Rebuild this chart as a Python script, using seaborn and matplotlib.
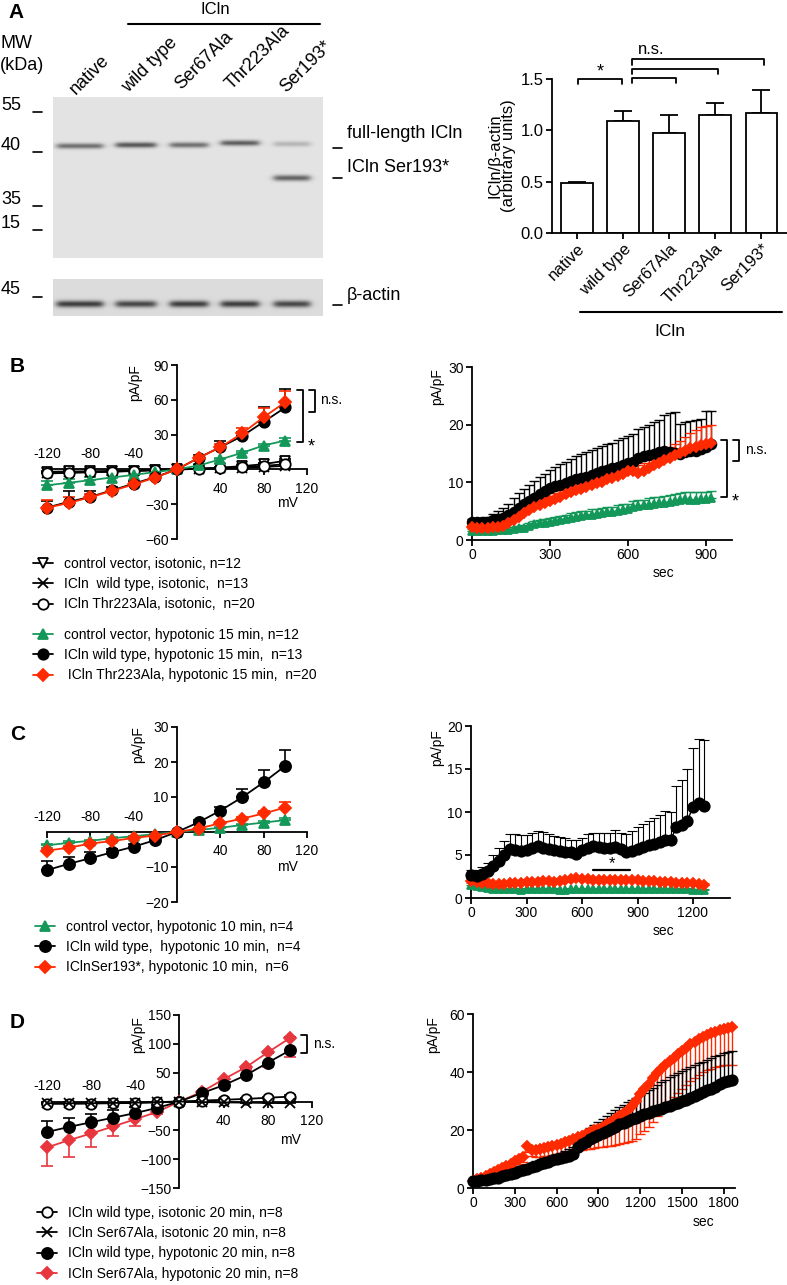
import numpy as np
import matplotlib
matplotlib.use('Agg')
import matplotlib.pyplot as plt
import seaborn as sns

sns.set_theme(style='ticks')
plt.rcParams['font.family'] = ['Liberation Sans', 'DejaVu Sans']
plt.rcParams['axes.edgecolor'] = 'black'
plt.rcParams['text.color'] = 'black'
plt.rcParams['axes.labelcolor'] = 'black'
plt.rcParams['xtick.color'] = 'black'
plt.rcParams['ytick.color'] = 'black'
plt.rcParams['axes.linewidth'] = 1.3

W, H = 787, 1285
RED = '#ff2a00'
RED_D = '#e8363e'
GREEN = '#14985a'

# ---------------- data ----------------
# panel A: western blot lanes and densitometry
lanes = ['native', 'wild type', 'Ser67Ala', 'Thr223Ala', 'Ser193*']
lane_x = [80, 136, 189, 240, 292]
lane_w = [46, 40, 38, 38, 36]
band_y = [146, 145, 145, 143, 144]
full_band = [0.45, 0.55, 0.45, 0.52, 0.18]
trunc_band = [0.0, 0.0, 0.0, 0.0, 0.5]
actin_band = [0.62, 0.58, 0.62, 0.62, 0.58]
ratio_mean = [0.49, 1.09, 0.97, 1.15, 1.17]
ratio_sem = [0.01, 0.10, 0.18, 0.12, 0.22]

volt = [-120, -100, -80, -60, -40, -20, 0, 20, 40, 60, 80, 100]

# panel B: IV, isotonic / hypotonic 15 min
b_ctrl_iso = [-2.0, -1.8, -1.6, -1.3, -1.0, -0.5, 0, 0.6, 1.5, 2.8, 4.5, 7.5]
b_wt_iso = [-3.0, -2.6, -2.2, -1.8, -1.2, -0.6, 0, 0.4, 1.0, 1.5, 2.2, 3.0]
b_thr_iso = [-3.5, -3.0, -2.5, -2.0, -1.4, -0.7, 0, 0.5, 1.2, 2.0, 3.0, 4.5]
b_iso_err = [1.0, 1.0, 0.8, 0.8, 0.6, 0.4, 0, 0.4, 0.6, 0.8, 1.0, 1.5]
b_ctrl_hypo = [-13.7, -11.5, -9.3, -7.0, -4.7, -2.3, 0, 3.4, 8.6, 14.3, 20.6, 24.9]
b_ctrl_err = [4, 3, 3, 2, 2, 1, 0, 1, 1, 1.5, 1.5, 2]
b_wt_hypo = [-32.9, -28.0, -23.7, -18.0, -12.3, -6.6, 0, 10.0, 19.2, 28.6, 41.0, 53.4]
b_wt_err = [6, 9, 5, 3, 2, 1, 0, 2, 5, 4, 13, 16]
b_thr_hypo = [-33.0, -29.0, -24.0, -18.5, -13.0, -7.0, 0, 10.0, 19.0, 31.0, 45.0, 58.0]
b_thr_err = [7, 5, 3, 2, 1.5, 1, 0, 1.5, 3, 5, 8, 10]

# panel B: time course
b_t = list(range(0, 940, 20))
b_wt_t = [3.2, 3.1, 3.1, 3.2, 3.4, 3.6, 3.9, 4.3, 4.9, 5.6, 6.2, 6.8, 7.3, 7.9, 8.5, 9.0,
          9.3, 9.6, 9.9, 10.2, 10.5, 10.8, 11.0, 11.3, 11.6, 11.9, 12.2, 12.4, 12.7, 13.0,
          13.4, 13.6, 14.3, 14.6, 14.8, 15.0, 15.2, 15.4, 15.3, 15.1, 15.0, 15.2, 15.4,
          15.5, 15.7, 16.2, 16.6]
b_wt_t_err = [0.5, 0.5, 0.6, 0.8, 1.1, 1.4, 1.7, 2.0, 2.3, 2.5, 2.7, 2.8, 2.9, 3.0, 3.0,
              3.1, 3.3, 3.5, 3.7, 3.9, 4.0, 4.1, 4.2, 4.3, 4.3, 4.4, 4.4, 4.5, 4.6, 4.7,
              4.6, 4.8, 4.9, 5.0, 5.2, 5.4, 5.6, 6.3, 6.8, 7.1, 5.2, 5.2, 5.3, 5.3, 5.2,
              6.2, 5.8]
b_thr_t = [2.2, 2.1, 2.1, 2.1, 2.2, 2.3, 2.5, 2.9, 3.4, 4.0, 4.6, 5.2, 5.7, 6.1, 6.4, 6.7,
           7.1, 7.5, 7.9, 8.3, 8.6, 8.9, 9.2, 9.5, 9.8, 10.1, 10.5, 10.8, 11.1, 11.5, 11.9,
           12.0, 11.6, 12.0, 12.5, 13.0, 13.4, 13.8, 14.3, 14.7, 15.1, 15.5, 15.9, 16.2,
           16.4, 16.6, 16.9]
b_thr_t_err = [0.3, 0.3, 0.3, 0.3, 0.4, 0.4, 0.5, 0.6, 0.7, 0.8, 0.9, 0.9, 1.0, 1.0, 1.0,
               1.0, 1.0, 1.1, 1.1, 1.1, 1.1, 1.2, 1.2, 1.2, 1.2, 1.2, 1.2, 1.3, 1.3, 1.3,
               1.3, 1.4, 1.4, 1.4, 1.5, 1.5, 1.6, 1.7, 1.8, 1.9, 2.0, 2.3, 2.6, 2.9, 3.2,
               3.2, 3.0]
b_ctrl_t = [1.6, 1.6, 1.6, 1.6, 1.6, 1.7, 1.7, 1.8, 1.9, 2.0, 2.1, 2.4, 2.7, 2.9, 3.0, 3.1,
            3.3, 3.5, 3.7, 3.9, 4.0, 4.2, 4.3, 4.4, 4.5, 4.7, 4.8, 4.9, 5.0, 5.2, 5.3, 5.8,
            5.9, 6.0, 6.1, 6.3, 6.4, 6.5, 6.6, 6.8, 6.9, 7.1, 7.0, 7.0, 7.1, 7.1, 7.2]
b_ctrl_t_err = [0.3, 0.3, 0.3, 0.3, 0.3, 0.3, 0.4, 0.4, 0.4, 0.5, 0.5, 0.5, 0.6, 0.6, 0.6,
                0.7, 0.7, 0.7, 0.7, 0.8, 0.8, 0.8, 0.8, 0.9, 0.9, 0.9, 0.9, 0.9, 1.0, 1.0,
                1.0, 1.0, 1.0, 1.0, 1.1, 1.1, 1.1, 1.1, 1.2, 1.2, 1.2, 1.2, 1.3, 1.3, 1.3,
                1.3, 1.3]

# panel C: IV, hypotonic 10 min
c_ctrl = [-3.8, -3.1, -2.5, -1.8, -1.2, -0.6, 0, 0.6, 1.2, 2.0, 2.7, 3.4]
c_ctrl_err = [0.4, 0.4, 0.3, 0.3, 0.2, 0.1, 0, 0.1, 0.2, 0.3, 0.4, 0.5]
c_wt = [-10.9, -9.1, -7.5, -5.8, -4.2, -2.3, 0, 2.8, 6.1, 9.9, 14.2, 18.9]
c_wt_err = [2.7, 2.0, 1.8, 1.0, 0.8, 0.5, 0, 0.5, 1.0, 2.3, 3.5, 4.5]
c_ser = [-5.3, -4.5, -3.3, -2.6, -1.7, -1.0, 0, 1.0, 2.5, 3.8, 5.3, 7.0]
c_ser_err = [0.6, 0.5, 0.4, 0.3, 0.2, 0.1, 0, 0.2, 0.3, 0.5, 0.6, 1.7]

# panel C: time course
c_t = list(range(0, 1261, 30))
c_wt_t = [2.7, 2.6, 2.8, 3.1, 3.7, 4.3, 5.0, 5.7, 5.6, 5.5, 5.6, 5.8, 6.0, 5.8, 5.7, 5.6,
          5.5, 5.4, 5.3, 5.1, 5.6, 5.8, 6.0, 5.9, 5.8, 5.8, 5.9, 5.7, 5.4, 5.5, 5.7, 5.9,
          6.2, 6.3, 6.5, 6.8, 6.8, 8.2, 8.5, 9.0, 10.6, 11.0, 10.7]
c_wt_t_err = [0.6, 0.6, 0.8, 1.0, 1.3, 1.5, 1.6, 1.7, 1.9, 1.8, 1.7, 1.8, 1.8, 1.9, 1.8,
              1.6, 1.6, 1.6, 1.5, 1.6, 1.4, 1.7, 1.6, 1.7, 1.8, 1.8, 2.0, 1.9, 2.0, 2.3,
              2.5, 2.7, 2.8, 3.0, 3.2, 3.3, 3.2, 4.8, 5.2, 6.0, 6.9, 7.5, 7.7]
c_ser_t = [2.0, 1.9, 1.8, 1.7, 1.6, 1.6, 1.6, 1.7, 1.8, 1.8, 1.9, 1.9, 1.9, 2.0, 2.0, 1.9,
           2.0, 2.1, 2.2, 2.3, 2.2, 2.2, 2.1, 2.1, 2.1, 2.1, 2.1, 2.1, 2.1, 2.1, 2.1, 2.0,
           2.0, 2.0, 1.9, 1.9, 1.9, 1.8, 1.8, 1.7, 1.7, 1.6, 1.5]
c_ser_t_err = [0.3] * 43
c_ctrl_t = [1.5, 1.4, 1.3, 1.2, 1.1, 1.1, 1.0, 1.0, 1.0, 0.9, 1.0, 1.0, 1.0, 1.0, 1.0, 1.0,
            0.9, 0.9, 1.0, 1.0, 1.0, 1.0, 1.0, 1.0, 1.0, 1.0, 1.0, 1.0, 1.0, 1.0, 1.0, 1.0,
            1.0, 1.0, 1.0, 1.0, 1.0, 1.0, 1.0, 1.0, 0.9, 0.9, 0.9]
c_ctrl_t_err = [0.2] * 43

# panel D: IV, 20 min
d_wt_iso = [-4.0, -4.0, -3.5, -3.0, -2.5, -1.5, 0, 1.5, 3.0, 4.5, 6.5, 8.5]
d_ser_iso = [-3.0, -3.0, -3.0, -2.5, -2.0, -1.0, 0, -1.0, -1.5, -2.0, -2.5, -3.0]
d_iso_err = [2, 2, 2, 2, 1.5, 1, 0, 1, 1.5, 2, 2, 2]
d_wt_hypo = [-53, -44, -36, -28, -20, -11, 0, 14.4, 28.2, 45.5, 67.4, 88.7]
d_wt_hypo_err = [19, 15, 14, 13, 10, 5, 0, 4, 5, 13, 17, 24]
d_ser_hypo = [-79.6, -67, -55.4, -43.3, -30.6, -18, 0, 16.7, 38.6, 59.3, 85.3, 110]
d_ser_hypo_err = [32, 29, 23, 16, 12, 4, 0, 3, 4, 5, 26, 32]

# panel D: time course
d_t = list(range(0, 1861, 30))
d_wt_t = [2.4, 2.5, 2.7, 2.9, 3.1, 3.3, 3.6, 4.0, 4.4, 4.8, 5.2, 5.7, 6.2, 6.7, 7.2, 7.7,
          8.2, 8.7, 9.1, 9.5, 9.9, 10.3, 10.7, 11.2, 11.8, 14.0, 15.2, 16.0, 16.8, 17.6,
          18.4, 19.1, 19.8, 20.5, 21.2, 21.9, 22.5, 23.1, 23.7, 24.3, 24.9, 25.4, 25.9,
          26.4, 26.9, 27.4, 27.9, 28.4, 28.9, 29.4, 29.9, 30.5, 31.1, 31.8, 32.5, 33.1,
          33.7, 34.3, 35.0, 35.7, 36.4, 37.0, 37.3]
d_wt_t_err = [0.3, 0.4, 0.4, 0.5, 0.5, 0.6, 0.6, 0.7, 0.8, 0.9, 1.0, 1.1, 1.2, 1.3, 1.4,
              1.5, 1.5, 1.6, 1.7, 1.7, 1.8, 1.9, 2.0, 2.2, 2.5, 2.8, 3.2, 3.5, 3.8, 4.2,
              4.5, 4.8, 5.1, 5.4, 5.7, 6.0, 6.2, 6.4, 6.6, 6.8, 7.0, 7.4, 7.8, 8.2, 8.6,
              9.0, 9.4, 9.8, 10.1, 10.3, 10.5, 10.5, 10.5, 10.5, 10.5, 10.5, 10.5, 10.4,
              10.4, 10.3, 10.3, 10.0, 9.8]
d_ser_t = [2.5, 3.0, 3.6, 4.2, 4.9, 5.6, 6.3, 7.0, 7.7, 8.4, 9.2, 10.0, 10.8, 14.5, 13.2,
           13.0, 13.3, 13.7, 14.1, 14.5, 14.8, 15.3, 15.9, 16.3, 16.8, 17.5, 18.1, 18.7,
           19.3, 19.9, 20.5, 21.2, 22.0, 22.8, 23.7, 24.7, 25.7, 26.9, 28.2, 29.9, 32.5,
           34.2, 36.0, 37.8, 39.5, 41.0, 42.5, 43.8, 45.0, 46.1, 47.2, 48.4, 49.5, 50.5,
           51.3, 52.0, 52.7, 53.3, 53.9, 54.4, 54.9, 55.2, 55.5]
d_ser_t_err = [0.3, 0.4, 0.5, 0.6, 0.7, 0.8, 0.9, 1.0, 1.1, 1.3, 1.5, 1.6, 1.8, 2.0, 2.2,
               2.4, 2.6, 2.8, 2.9, 3.0, 3.0, 3.2, 3.5, 3.8, 4.1, 4.5, 4.9, 5.3, 5.7, 6.1,
               6.5, 7.0, 7.6, 8.2, 8.9, 9.5, 10.2, 11.0, 12.0, 13.0, 14.0, 14.6, 15.0, 15.0,
               14.8, 14.5, 14.2, 13.9, 13.6, 13.3, 13.0, 12.8, 12.6, 12.4, 12.2, 12.0, 12.0,
               12.1, 12.2, 12.3, 12.5, 12.8, 13.0]

legend_b1 = ['control vector, isotonic, n=12', 'ICln  wild type, isotonic,  n=13',
             'ICln Thr223Ala, isotonic,  n=20']
legend_b2 = ['control vector, hypotonic 15 min, n=12', 'ICln wild type, hypotonic 15 min,  n=13',
             ' ICln Thr223Ala, hypotonic 15 min,  n=20']
legend_c = ['control vector, hypotonic 10 min, n=4', 'ICln wild type,  hypotonic 10 min,  n=4',
            'IClnSer193*, hypotonic 10 min,  n=6']
legend_d = ['ICln wild type, isotonic 20 min, n=8', 'ICln Ser67Ala, isotonic 20 min, n=8',
            'ICln wild type, hypotonic 20 min, n=8', 'ICln Ser67Ala, hypotonic 20 min, n=8']

FS = 10
FA = 13

fig = plt.figure(figsize=(W / 100, H / 100), dpi=100)


def px_axes(x0, y0, x1, y1):
    a = fig.add_axes([x0 / W, 1 - y1 / H, (x1 - x0) / W, (y1 - y0) / H])
    a.patch.set_alpha(0)
    return a


def draw_series(ax, x, y, lo, hi, color, marker, ms, mfc=None, cap=4.2, elw=1.2, lw=1.3, z=3):
    ax.errorbar(x, y, yerr=[lo, hi], fmt='none', ecolor=color, elinewidth=elw, capsize=cap,
                capthick=elw, clip_on=False, zorder=z)
    sns.lineplot(x=x, y=y, ax=ax, color=color, marker=marker, markersize=ms,
                 markerfacecolor=mfc if mfc else color, markeredgecolor=color,
                 markeredgewidth=1.3, linewidth=lw, clip_on=False, zorder=z + 0.5,
                 errorbar=None)
    return ax.lines[-1]


def iv_style(ax, ylim, yticks, neg_off, pos_off):
    ax.set_xlim(-120, 120)
    ax.set_ylim(*ylim)
    ax.spines['left'].set_position(('data', 0))
    ax.spines['bottom'].set_position(('data', 0))
    ax.spines['right'].set_visible(False)
    ax.spines['top'].set_visible(False)
    ax.set_yticks(yticks)
    ax.set_xticks([-120, -80, -40, 40, 80, 120])
    ax.set_xticklabels([])
    ax.tick_params(direction='out', length=4, width=1.3, labelsize=FS, pad=2)
    ax.set_xlabel('')
    ax.set_ylabel('')
    for v in [-120, -80, -40]:
        ax.annotate(str(v), (v, 0), xytext=(0, neg_off), textcoords='offset points',
                    ha='center', va='center', fontsize=FS)
    for v in [40, 80, 120]:
        ax.annotate(str(v), (v, 0), xytext=(0, pos_off), textcoords='offset points',
                    ha='center', va='center', fontsize=FS)


def time_style(ax, xlim, xticks, ylim, yticks):
    ax.set_xlim(*xlim)
    ax.set_ylim(*ylim)
    ax.set_xticks(xticks)
    ax.set_yticks(yticks)
    ax.spines['right'].set_visible(False)
    ax.spines['top'].set_visible(False)
    ax.tick_params(direction='out', length=4, width=1.3, labelsize=FS, pad=2)
    ax.set_xlabel('')
    ax.set_ylabel('')


def legend_at(handles, labels, x, y):
    fig.legend(handles, labels, loc='upper left', bbox_to_anchor=(x / W, 1 - y / H),
               bbox_transform=fig.transFigure, frameon=False, fontsize=FS,
               handlelength=1.45, handletextpad=0.8, labelspacing=0.45,
               borderpad=0, borderaxespad=0)


# ---------------- panel A bar chart ----------------
axA = px_axes(552, 79, 787, 233)
sns.barplot(x=lanes, y=ratio_mean, color='white', edgecolor='black', linewidth=1.3,
            width=0.68, saturation=1, errorbar=None, ax=axA)
axA.errorbar(range(len(lanes)), ratio_mean, yerr=[np.zeros(len(lanes)), ratio_sem],
             fmt='none', ecolor='black', elinewidth=1.3, capsize=6.5, capthick=1.3, zorder=0)
axA.set_xlim(-0.54, 4.56)
axA.set_ylim(0, 1.5)
axA.set_yticks([0, 0.5, 1.0, 1.5])
axA.set_yticklabels(['0.0', '0.5', '1.0', '1.5'])
axA.spines['right'].set_visible(False)
axA.spines['top'].set_visible(False)
axA.tick_params(direction='out', length=4, width=1.3, labelsize=12, pad=2)
axA.set_xticks(range(len(lanes)))
axA.set_xticklabels(lanes, rotation=45, ha='right', rotation_mode='anchor', fontsize=12)
axA.set_ylabel('ICln/\u03b2-actin\n(arbitrary units)', fontsize=12, linespacing=0.95, labelpad=3)
axA.set_xlabel('')
brk = dict(color='black', lw=1.3, clip_on=False)
axA.plot([0.02, 0.02, 0.97, 0.97], [1.45, 1.5, 1.5, 1.45], **brk)
axA.text(0.5, 1.57, '*', ha='center', va='center', fontsize=13)
for xr, yb in [(2.16, 1.51), (3.06, 1.6), (4.05, 1.69)]:
    axA.plot([1.2, 1.2, xr, xr], [yb - 0.05, yb, yb, yb - 0.05], **brk)
axA.text(1.62, 1.79, 'n.s.', ha='center', va='center', fontsize=12)

# ---------------- panel B ----------------
axB = px_axes(47, 365, 307, 539)
h_ctrl_iso = draw_series(axB, volt, b_ctrl_iso, np.zeros(12), b_iso_err, 'black', 'v', 7.5, 'white')
h_wt_iso = draw_series(axB, volt, b_wt_iso, np.zeros(12), b_iso_err, 'black', 'x', 7.5)
h_thr_iso = draw_series(axB, volt, b_thr_iso, np.zeros(12), b_iso_err, 'black', 'o', 7.5, 'white')
h_ctrl = draw_series(axB, volt, b_ctrl_hypo, np.zeros(12), b_ctrl_err, GREEN, '^', 7)
h_wt = draw_series(axB, volt, b_wt_hypo, np.zeros(12), b_wt_err, 'black', 'o', 7.5)
h_thr = draw_series(axB, volt, b_thr_hypo, np.zeros(12), b_thr_err, RED, 'D', 6)
iv_style(axB, (-60, 90), [-60, -30, 30, 60, 90], 11, -14)

axBt = px_axes(472, 367, 732, 540)
draw_series(axBt, b_t, b_ctrl_t, np.zeros(len(b_t)), b_ctrl_t_err, GREEN, '^', 6, cap=3.5, elw=1.0, lw=1)
draw_series(axBt, b_t, b_wt_t, np.zeros(len(b_t)), b_wt_t_err, 'black', 'o', 7, cap=3.5, elw=1.0, lw=1)
draw_series(axBt, b_t, b_thr_t, np.zeros(len(b_t)), b_thr_t_err, RED, 'D', 5.5, cap=3.5, elw=1.0, lw=1)
time_style(axBt, (0, 1000), [0, 300, 600, 900], (0, 30), [0, 10, 20, 30])

# ---------------- panel C ----------------
axC = px_axes(47, 727, 307, 902)
h_c_ctrl = draw_series(axC, volt, c_ctrl, np.zeros(12), c_ctrl_err, GREEN, '^', 7)
h_c_wt = draw_series(axC, volt, c_wt, np.zeros(12), c_wt_err, 'black', 'o', 8)
h_c_ser = draw_series(axC, volt, c_ser, np.zeros(12), c_ser_err, RED, 'D', 6)
iv_style(axC, (-20, 30), [-20, -10, 10, 20, 30], 11, -14)

axCt = px_axes(471, 726, 730, 898)
draw_series(axCt, c_t, c_ctrl_t, np.zeros(len(c_t)), c_ctrl_t_err, GREEN, '^', 6, cap=3.5, elw=0.8, lw=1)
draw_series(axCt, c_t, c_ser_t, np.zeros(len(c_t)), c_ser_t_err, RED, 'D', 5.5, cap=3.5, elw=0.8, lw=1)
draw_series(axCt, c_t, c_wt_t, np.zeros(len(c_t)), c_wt_t_err, 'black', 'o', 7.5, cap=3.5, elw=0.8, lw=1)
time_style(axCt, (0, 1400), [0, 300, 600, 900, 1200], (0, 20), [0, 5, 10, 15, 20])
axCt.plot([658, 858], [3.3, 3.3], color='black', lw=1.6)
axCt.text(760, 3.95, '*', ha='center', va='center', fontsize=12)

# ---------------- panel D ----------------
axD = px_axes(47, 1015, 312, 1188)
h_d_ser = draw_series(axD, volt, d_ser_hypo, d_ser_hypo_err, np.zeros(12), RED_D, 'D', 6)
h_d_wt = draw_series(axD, volt, d_wt_hypo, np.zeros(12), d_wt_hypo_err, 'black', 'o', 8)
h_d_wt_iso = draw_series(axD, volt, d_wt_iso, np.zeros(12), d_iso_err, 'black', 'o', 7.5, 'white')
h_d_ser_iso = draw_series(axD, volt, d_ser_iso, np.zeros(12), d_iso_err, 'black', 'x', 7.5)
iv_style(axD, (-150, 150), [-150, -100, -50, 50, 100, 150], 11, -14)

axDt = px_axes(473, 1014, 735, 1188)
draw_series(axDt, d_t, d_ser_t, d_ser_t_err, np.zeros(len(d_t)), RED, 'D', 5.5, cap=3.5, elw=1.0, lw=1)
draw_series(axDt, d_t, d_wt_t, np.zeros(len(d_t)), d_wt_t_err, 'black', 'o', 7.5, cap=3.5, elw=1.0, lw=1)
time_style(axDt, (0, 1880), [0, 300, 600, 900, 1200, 1500, 1800], (0, 60), [0, 20, 40, 60])

# ---------------- legends ----------------
legend_at([h_ctrl_iso, h_wt_iso, h_thr_iso], legend_b1, 33, 557)
legend_at([h_ctrl, h_wt, h_thr], legend_b2, 33, 628)
legend_at([h_c_ctrl, h_c_wt, h_c_ser], legend_c, 35, 920)
legend_at([h_d_wt_iso, h_d_ser_iso, h_d_wt, h_d_ser], legend_d, 37, 1206)

# ---------------- overlay: blot and free text ----------------
ov = fig.add_axes([0, 0, 1, 1])
ov.set_xlim(0, W)
ov.set_ylim(H, 0)
ov.axis('off')

xs = np.arange(53, 323) + 0.5
ys = np.arange(97, 258) + 0.5
X, Y = np.meshgrid(xs, ys)
blot = np.full(X.shape, 0.89)
for cx, w, by, a, b in zip(lane_x, lane_w, band_y, full_band, trunc_band):
    box = 1 / (1 + np.exp(-(X - (cx - w / 2)) / 2.0)) / (1 + np.exp((X - (cx + w / 2)) / 2.0))
    blot -= a * box * np.exp(-((Y - by) / 2.8) ** 2)
    blot -= b * box * np.exp(-((Y - 178) / 3.0) ** 2)
ov.imshow(blot, cmap='gray', vmin=0, vmax=1, extent=(53, 323, 258, 97), aspect='auto',
          interpolation='bilinear')

ys2 = np.arange(279, 316) + 0.5
X2, Y2 = np.meshgrid(xs, ys2)
actin = np.full(X2.shape, 0.86)
for cx, w, a in zip(lane_x, lane_w, actin_band):
    box = 1 / (1 + np.exp(-(X2 - (cx - w / 2)) / 2.0)) / (1 + np.exp((X2 - (cx + w / 2)) / 2.0))
    actin -= a * box * np.exp(-((Y2 - 304) / 3.4) ** 2)
ov.imshow(actin, cmap='gray', vmin=0, vmax=1, extent=(53, 323, 316, 279), aspect='auto',
          interpolation='bilinear')
ov.set_xlim(0, W)
ov.set_ylim(H, 0)

ov.text(8, 12, 'A', fontsize=15, fontweight='bold', va='center')
ov.text(10, 367, 'B', fontsize=15, fontweight='bold', va='center')
ov.text(10, 735, 'C', fontsize=15, fontweight='bold', va='center')
ov.text(10, 1022, 'D', fontsize=15, fontweight='bold', va='center')

ov.text(215, 9, 'ICln', fontsize=12, ha='center', va='center')
ov.plot([128, 320], [24, 24], color='black', lw=1.5)
ov.text(0, 43, 'MW', fontsize=FA, va='center')
ov.text(0, 65, '(kDa)', fontsize=FA, va='center')
for lab, lx, ly in zip(lanes, [76, 128, 181, 232, 286], [95, 93, 90, 90, 93]):
    ov.text(lx, ly, lab, fontsize=FA, rotation=45, rotation_mode='anchor', ha='left', va='baseline')
for lab, ly, dy in [('55', 105, 112), ('40', 145, 152), ('35', 200, 206), ('15', 223, 230),
                    ('45', 290, 297)]:
    ov.text(1, ly, lab, fontsize=FA, va='center')
    ov.plot([33, 42], [dy, dy], color='black', lw=1.2)
for lab, ty, dy in [('full-length ICln', 134, 148), ('ICln Ser193*', 168, 178),
                    ('\u03b2-actin', 296, 305)]:
    ov.text(347, ty, lab, fontsize=FA, va='center')
    ov.plot([333, 342], [dy, dy], color='black', lw=1.2)

ov.plot([580, 782], [312, 312], color='black', lw=1.5)
ov.text(670, 332, 'ICln', fontsize=12.5, ha='center', va='center')

# axis titles
for x, y in [(135, 383), (437, 387), (138, 745), (437, 748), (138, 1035), (433, 1035)]:
    ov.text(x, y, 'pA/pF', fontsize=FS, rotation=90, ha='center', va='center')
for x, y in [(287, 503), (287, 867), (290, 1140)]:
    ov.text(x, y, 'mV', fontsize=FS, ha='center', va='center')
for x, y in [(663, 573), (663, 931), (703, 1222)]:
    ov.text(x, y, 'sec', fontsize=FS, ha='center', va='center')

# significance brackets
bk = dict(color='black', lw=1.3)
ov.plot([309, 315, 315, 309], [390, 390, 412, 412], **bk)
ov.text(320, 400, 'n.s.', fontsize=FS, va='center')
ov.plot([297, 303, 303, 297], [390, 390, 442, 442], **bk)
ov.text(308, 447, '*', fontsize=13, va='center')
ov.plot([733, 739, 739, 733], [440, 440, 461, 461], **bk)
ov.text(745, 450, 'n.s.', fontsize=FS, va='center')
ov.plot([721, 727, 727, 721], [440, 440, 497, 497], **bk)
ov.text(732, 502, '*', fontsize=13, va='center')
ov.plot([301, 307, 307, 301], [1035, 1035, 1053, 1053], **bk)
ov.text(313, 1044, 'n.s.', fontsize=FS, va='center')

fig.savefig('out.png', dpi=100)
